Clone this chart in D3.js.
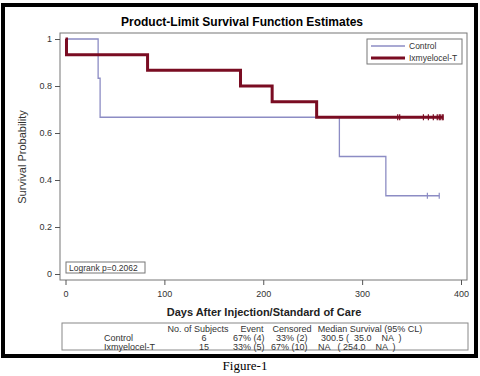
<!DOCTYPE html>
<html lang="en">
<head>
<meta charset="UTF-8">
<script src="https://cdn.jsdelivr.net/npm/d3@7"></script>
<style>
  body { margin: 0; background: #fff; }
  text { font-family: "Liberation Sans", Arial, sans-serif; }
  text.serif { font-family: "Liberation Serif", "Times New Roman", serif; }
</style>
</head>
<body>
<div id="container"></div>
<script>
// KM curves (day, survival after that day)
var ctrlTimes = [0, 33, 35, 277, 324, 378],
    ctrlSurv  = [1, 0.833, 0.667, 0.5, 0.333, 0.333],
    ctrlCens  = [366, 378];
var ixmTimes = [0, 1, 83, 177, 209, 254, 382],
    ixmSurv  = [1, 0.933, 0.867, 0.8, 0.733, 0.667, 0.667],
    ixmCens  = [336, 338, 362, 367, 372, 376, 378, 379, 381, 382];

var xTicks = [0, 100, 200, 300, 400],
    yTicks = [0, 0.2, 0.4, 0.6, 0.8, 1];

var groups = ["Control", "Ixmyelocel-T"],
    nSubjects = ["6", "15"],
    events = ["67% (4)", "33% (5)"],
    censored = ["33% (2)", "67% (10)"],
    medians = ["300.5 (  35.0    NA  )", "NA   ( 254.0    NA  )"];

var width = 480, height = 376;
var colCtrl = "#8c8cc4", colIxm = "#7a0c22";

var svg = d3.select("#container").append("svg")
    .attr("width", width).attr("height", height);

svg.append("rect").attr("width", width).attr("height", height).attr("fill", "#fff");
// outer frame
svg.append("rect").attr("x", 3).attr("y", 5).attr("width", 473).attr("height", 351)
    .attr("fill", "none").attr("stroke", "#000").attr("stroke-width", 4);

var x = d3.scaleLinear().domain([0, 400]).range([65.5, 461]);
var y = d3.scaleLinear().domain([0, 1]).range([274, 39]);

// plot frame
svg.append("rect").attr("x", 60).attr("y", 33).attr("width", 407).attr("height", 247)
    .attr("fill", "none").attr("stroke", "#777").attr("stroke-width", 1);

svg.append("text").attr("x", 242).attr("y", 26).attr("text-anchor", "middle")
    .attr("font-size", 12).attr("font-weight", "bold").text("Product-Limit Survival Function Estimates");

// axes
var xAxis = svg.append("g").attr("transform", "translate(0,280)")
    .call(d3.axisBottom(x).tickValues(xTicks).tickSize(5).tickFormat(d3.format("d")));
var yAxis = svg.append("g").attr("transform", "translate(60,0)")
    .call(d3.axisLeft(y).tickValues(yTicks).tickSize(5).tickFormat(d => d === 0 || d === 1 ? d : d3.format(".1f")(d)));
[xAxis, yAxis].forEach(a => {
  a.select(".domain").remove();
  a.selectAll("line").attr("stroke", "#555");
  a.selectAll("text").attr("font-size", 9).attr("fill", "#333");
});
xAxis.selectAll("text").attr("dy", "1.05em");

svg.append("text").attr("x", 264).attr("y", 316).attr("text-anchor", "middle")
    .attr("font-size", 11).attr("font-weight", "bold").attr("fill", "#222")
    .text("Days After Injection/Standard of Care");
svg.append("text").attr("transform", "translate(26,157) rotate(-90)").attr("text-anchor", "middle")
    .attr("font-size", 11).attr("fill", "#333").text("Survival Probability");

var line = d3.line().x(d => x(d[0])).y(d => y(d[1])).curve(d3.curveStepAfter);

function drawCurve(times, surv, cens, color, w) {
  var pts = d3.zip(times, surv);
  svg.append("path").attr("d", line(pts)).attr("fill", "none")
      .attr("stroke", color).attr("stroke-width", w);
  var last = surv[surv.length - 1];
  svg.selectAll(null).data(cens).join("line")
      .attr("x1", d => x(d)).attr("x2", d => x(d))
      .attr("y1", y(last) - 3).attr("y2", y(last) + 3)
      .attr("stroke", color).attr("stroke-width", 1.2);
}
drawCurve(ctrlTimes, ctrlSurv, ctrlCens, colCtrl, 1.3);
drawCurve(ixmTimes, ixmSurv, ixmCens, colIxm, 3);

// legend
var lg = svg.append("g");
lg.append("rect").attr("x", 367).attr("y", 39).attr("width", 95).attr("height", 25)
    .attr("fill", "#fff").attr("stroke", "#777");
[[colCtrl, 1.3, groups[0]], [colIxm, 3, groups[1]]].forEach((d, i) => {
  var yy = 46 + i * 12;
  lg.append("line").attr("x1", 371).attr("x2", 405).attr("y1", yy).attr("y2", yy)
      .attr("stroke", d[0]).attr("stroke-width", d[1]);
  lg.append("text").attr("x", 409).attr("y", yy + 3).attr("font-size", 8.5).attr("fill", "#333").text(d[2]);
});

// logrank box
svg.append("rect").attr("x", 66).attr("y", 262).attr("width", 79).attr("height", 11)
    .attr("fill", "#fff").attr("stroke", "#777");
svg.append("text").attr("x", 69).attr("y", 271).attr("font-size", 8.5).attr("fill", "#333")
    .text("Logrank p=0.2062");

// summary table
svg.append("rect").attr("x", 62).attr("y", 323).attr("width", 406).attr("height", 27)
    .attr("fill", "none").attr("stroke", "#888");
var tb = svg.append("g").attr("font-size", 9).attr("fill", "#333");
var hdr = [["No. of Subjects", 198], ["Event", 252], ["Censored", 292], ["Median Survival (95% CL)", 370]];
hdr.forEach(h => tb.append("text").attr("x", h[1]).attr("y", 332).attr("text-anchor", "middle").text(h[0]));
groups.forEach((g, i) => {
  var yy = 341 + i * 8.5;
  tb.append("text").attr("x", 104).attr("y", yy).text(g);
  tb.append("text").attr("x", 204).attr("y", yy).attr("text-anchor", "middle").text(nSubjects[i]);
  tb.append("text").attr("x", 233).attr("y", yy).text(events[i]);
  tb.append("text").attr("x", i === 0 ? 276 : 271).attr("y", yy).text(censored[i]);
  tb.append("text").attr("x", i === 0 ? 321 : 318).attr("y", yy)
      .style("white-space", "pre").text(medians[i]);
});

svg.append("text").attr("class", "serif").attr("x", 245).attr("y", 370).attr("text-anchor", "middle")
    .attr("font-size", 13).text("Figure-1");
</script>
</body>
</html>
